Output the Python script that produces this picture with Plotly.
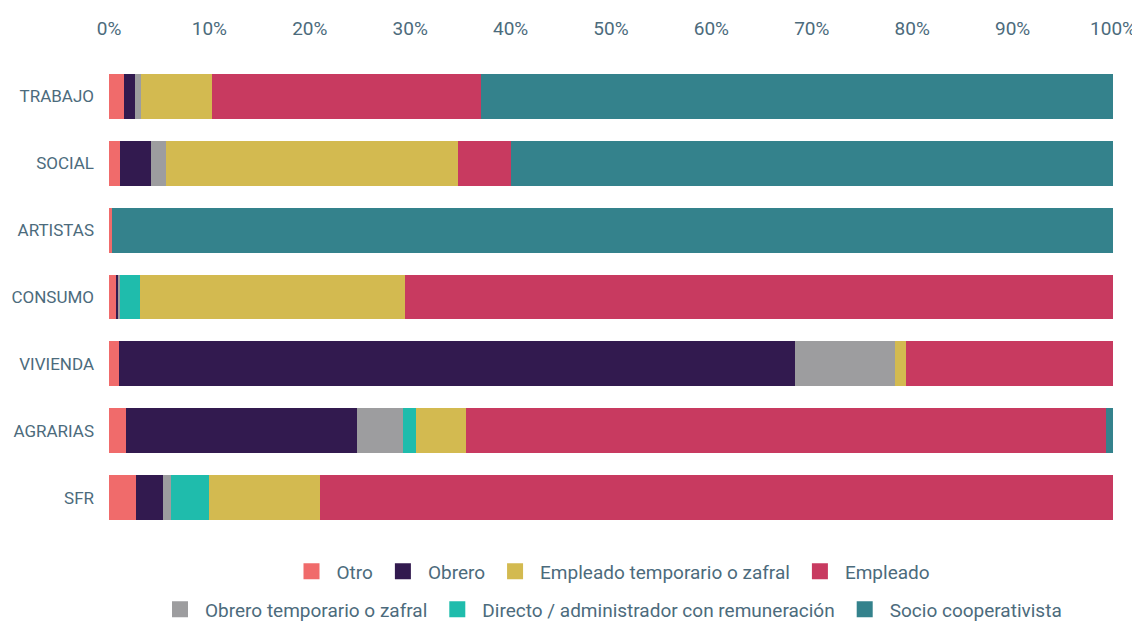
import plotly.graph_objects as go

categories = ["TRABAJO", "SOCIAL", "ARTISTAS", "CONSUMO", "VIVIENDA", "AGRARIAS", "SFR"]

otro = [1.5, 1.1, 0.3, 0.7, 1.0, 1.7, 2.7]
obrero = [1.1, 3.1, 0.0, 0.2, 67.3, 23.0, 2.7]
obrero_temp = [0.6, 1.5, 0.0, 0.2, 10.0, 4.6, 0.8]
directo = [0.0, 0.0, 0.0, 2.0, 0.0, 1.3, 3.8]
empleado_temp = [7.1, 29.1, 0.0, 26.4, 1.1, 5.0, 11.0]
empleado = [26.8, 5.2, 0.0, 70.5, 20.6, 63.7, 79.0]
socio = [62.9, 60.0, 99.7, 0.0, 0.0, 0.7, 0.0]

tick_vals = [0, 10, 20, 30, 40, 50, 60, 70, 80, 90, 100]
tick_text = [f"{v}%" for v in tick_vals]

series = [
    ("Otro", otro, "#f06b6b", "legend", 1),
    ("Obrero", obrero, "#321a4f", "legend", 2),
    ("Obrero temporario o zafral", obrero_temp, "#9d9d9f", "legend2", 5),
    ("Directo / administrador con remuneración", directo, "#1fbcac", "legend2", 6),
    ("Empleado temporario o zafral", empleado_temp, "#d3ba50", "legend", 3),
    ("Empleado", empleado, "#c83a60", "legend", 4),
    ("Socio cooperativista", socio, "#34828c", "legend2", 7),
]

FONT = "Roboto"
TXT = "#4c6b7c"
FS = 19
W8 = 400

fig = go.Figure()
for name, vals, color, leg, rank in series:
    fig.add_trace(go.Bar(
        y=categories, x=vals, name=name, orientation="h",
        marker=dict(color=color, line=dict(width=0)),
        showlegend=False,
        hovertemplate="%{y}: %{x}%<extra>" + name + "</extra>",
    ))
# legend-only entries with larger square swatches
for name, vals, color, leg, rank in series:
    fig.add_trace(go.Scatter(
        x=[None], y=[None], mode="markers", name=name,
        marker=dict(symbol="square", size=16, color=color),
        legend=leg, legendrank=rank, showlegend=True, hoverinfo="skip",
    ))

# page body has an 8px margin, so positions are shifted by -8px
fig.update_layout(
    barmode="stack",
    bargap=0.33,
    width=1140, height=621,
    margin=dict(l=101, r=35, t=54.5, b=97.5, autoexpand=False),
    paper_bgcolor="white", plot_bgcolor="white",
    font=dict(family=FONT, size=FS, color=TXT, weight=W8),
    xaxis=dict(side="top", range=[0, 100], tickvals=tick_vals, ticktext=tick_text,
               showgrid=False, zeroline=False, showline=False, ticks="",
               automargin=False, ticklabelstandoff=23,
               tickfont=dict(family=FONT, size=FS, color=TXT, weight=W8)),
    yaxis=dict(categoryorder="array", categoryarray=categories, autorange="reversed",
               showgrid=False, zeroline=False, showline=False, ticks="",
               automargin=False, ticklabelstandoff=14,
               tickfont=dict(family=FONT, size=17, color=TXT, weight=W8)),
    legend=dict(orientation="h", x=0.5, xanchor="center", y=-0.0864, yanchor="middle",
                font=dict(family=FONT, size=FS, color=TXT, weight=W8),
                traceorder="normal", itemwidth=40, itemsizing="trace"),
    legend2=dict(orientation="h", x=0.5, xanchor="center", y=-0.1674, yanchor="middle",
                 font=dict(family=FONT, size=FS, color=TXT, weight=W8),
                 traceorder="normal", itemwidth=40, itemsizing="trace"),
)

fig.write_html("out.html")
